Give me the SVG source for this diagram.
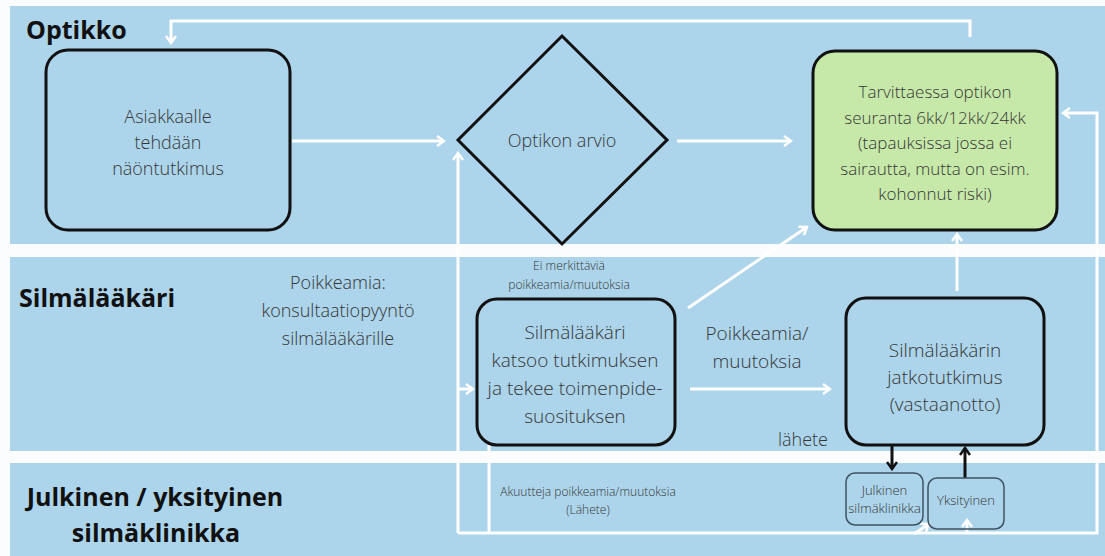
<svg xmlns="http://www.w3.org/2000/svg" width="1105" height="556" viewBox="0 0 1105 556">
<style>
.lane{fill:#acd4ea}
.title{font-family:"Open Sans","Liberation Sans",sans-serif;font-weight:700;font-size:25px;fill:#111}
.t{font-family:"Open Sans","Liberation Sans",sans-serif;font-weight:300;fill:#363636;text-anchor:middle}
.box{fill:none;stroke:#111;stroke-width:3}
.sbox{fill:none;stroke:#3e5163;stroke-width:1.5}
.w{fill:none;stroke:#fff;stroke-width:3}
.k{fill:none;stroke:#111;stroke-width:3}
</style>
<defs>
<marker id="aw" viewBox="0 0 10 12" refX="8" refY="6" markerWidth="10" markerHeight="12" markerUnits="userSpaceOnUse" orient="auto">
<path d="M1,1 L8,6 L1,11" fill="none" stroke="#fff" stroke-width="2.5"/>
</marker>
<marker id="ak" viewBox="0 0 10 12" refX="8" refY="6" markerWidth="10" markerHeight="12" markerUnits="userSpaceOnUse" orient="auto">
<path d="M1,1 L8,6 L1,11" fill="none" stroke="#111" stroke-width="2.5"/>
</marker>
</defs>
<rect x="0" y="0" width="1105" height="556" fill="#fbfcfd"/>
<rect class="lane" x="10" y="6" width="1095" height="238"/>
<rect class="lane" x="10" y="257" width="1095" height="194"/>
<rect class="lane" x="10" y="463" width="1095" height="93"/>

<g id="lane-labels">
<text class="title" x="26" y="39">Optikko</text>
<text class="title" x="19" y="307" font-size="26">Silmälääkäri</text>
<text class="title" x="155" y="506" text-anchor="middle" font-size="26">Julkinen / yksityinen</text>
<text class="title" x="156" y="542" text-anchor="middle" font-size="26">silmäklinikka</text>
</g>

<g id="connectors">
<path class="w" d="M970,37 V21 H171 V43" marker-end="url(#aw)"/>
<path class="w" d="M292,141 H444" marker-end="url(#aw)"/>
<path class="w" d="M677,141 H791" marker-end="url(#aw)"/>
<path class="w" d="M688,308 L807,227" marker-end="url(#aw)"/>
<path class="w" d="M957,291 V234" marker-end="url(#aw)"/>
<path class="w" d="M690,389 H830" marker-end="url(#aw)"/>
<path class="w" d="M458,533 V153" marker-end="url(#aw)"/>
<path class="w" d="M458,389 H473" marker-end="url(#aw)"/>
<path class="w" d="M489,445 V533"/>
<path class="w" d="M458,533 H1097 V113 H1063" marker-end="url(#aw)"/>
<path class="w" d="M914,534 L929,524" marker-end="url(#aw)"/>
<path class="w" d="M967,533 V520" marker-end="url(#aw)"/>
<path class="k" d="M892,445 V469" marker-end="url(#ak)"/>
<path class="k" d="M965,478 V448" marker-end="url(#ak)"/>
</g>

<g id="node-naontutkimus">
<rect class="box" x="46" y="50" width="244" height="180" rx="22"/>
<text class="t" x="168" y="123" font-size="18">Asiakkaalle</text>
<text class="t" x="168" y="149" font-size="18">tehdään</text>
<text class="t" x="168" y="175" font-size="18">näöntutkimus</text>
</g>

<g id="node-optikon-arvio">
<polygon class="box" points="562,36 667,140 562,244 458,140"/>
<text class="t" x="562" y="147" font-size="18">Optikon arvio</text>
</g>

<g id="node-seuranta">
<rect x="813" y="51" width="244" height="179" rx="22" fill="#c6e9a9" stroke="#111" stroke-width="3"/>
<text class="t" x="935" y="98" font-size="17">Tarvittaessa optikon</text>
<text class="t" x="935" y="124" font-size="17">seuranta 6kk/12kk/24kk</text>
<text class="t" x="935" y="149" font-size="17">(tapauksissa jossa ei</text>
<text class="t" x="935" y="175" font-size="17">sairautta, mutta on esim.</text>
<text class="t" x="935" y="200" font-size="17">kohonnut riski)</text>
</g>

<g id="label-konsultaatio">
<text class="t" x="338" y="289" font-size="18">Poikkeamia:</text>
<text class="t" x="338" y="317" font-size="18">konsultaatiopyyntö</text>
<text class="t" x="338" y="345" font-size="18">silmälääkärille</text>
</g>

<g id="label-ei-merkittavia">
<text class="t" x="569" y="270" font-size="12">Ei merkittäviä</text>
<text class="t" x="569" y="289" font-size="12">poikkeamia/muutoksia</text>
</g>

<g id="node-silmalaakari">
<rect class="box" x="477" y="299" width="198" height="146" rx="20"/>
<text class="t" x="575" y="339" font-size="19">Silmälääkäri</text>
<text class="t" x="575" y="367" font-size="19">katsoo tutkimuksen</text>
<text class="t" x="575" y="395" font-size="19">ja tekee toimenpide-</text>
<text class="t" x="575" y="423" font-size="19">suosituksen</text>
</g>

<g id="label-poikkeamia">
<text class="t" x="757" y="340" font-size="19">Poikkeamia/</text>
<text class="t" x="757" y="368" font-size="19">muutoksia</text>
</g>

<g id="node-jatkotutkimus">
<rect class="box" x="846" y="298" width="198" height="147" rx="20"/>
<text class="t" x="945" y="357" font-size="19">Silmälääkärin</text>
<text class="t" x="945" y="384" font-size="19">jatkotutkimus</text>
<text class="t" x="945" y="411" font-size="19">(vastaanotto)</text>
</g>

<g id="label-lahete">
<text class="t" x="803" y="446" font-size="18">lähete</text>
</g>

<g id="label-akuutteja">
<text class="t" x="588" y="496" font-size="12">Akuutteja poikkeamia/muutoksia</text>
<text class="t" x="588" y="514" font-size="12">(Lähete)</text>
</g>

<g id="node-julkinen">
<rect class="sbox" x="846" y="473" width="77" height="52" rx="9"/>
<text class="t" x="884.5" y="495" font-size="13">Julkinen</text>
<text class="t" x="884.5" y="513" font-size="13">silmäklinikka</text>
</g>

<g id="node-yksityinen">
<rect class="sbox" x="928" y="478" width="76" height="51" rx="9"/>
<text class="t" x="966" y="505" font-size="13">Yksityinen</text>
</g>
</svg>
